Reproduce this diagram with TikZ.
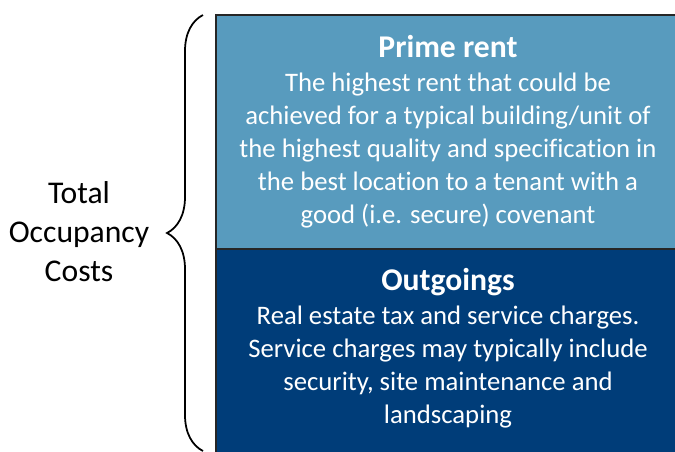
\documentclass[tikz,border=0pt]{standalone}
\usepackage{fontspec}
\setmainfont{Carlito}[Ligatures=NoCommon]
\usepackage{xcolor}
\usetikzlibrary{decorations.pathreplacing}
\definecolor{primeblue}{HTML}{589BBE}
\definecolor{outnavy}{HTML}{003D79}
\tikzset{
  boxhead/.style={text=white,inner sep=0pt,anchor=base,font=\bfseries\fontsize{18}{21}\selectfont},
  boxtext/.style={text=white,inner sep=0pt,anchor=north,align=center,font=\fontsize{15.2}{18.8}\selectfont}
}

\begin{document}
\begin{tikzpicture}
\useasboundingbox (0,0) rectangle (13.5,9.02);
\clip (0,0) rectangle (13.5,9.02);
\draw[fill=primeblue,draw=black!85,line width=0.8pt] (4.32,4.04) rectangle (13.8,8.72);
\draw[fill=outnavy,draw=black!85,line width=0.8pt] (4.32,-0.3) rectangle (13.8,4.04);
% upper box
\node[boxhead] (primehead) at (8.96,7.88) {Prime rent};
\node[boxtext] (primetext) at (8.96,7.57) {The highest rent that could be\\achieved for a typical building/unit of\\the highest quality and specification in\\the best location to a tenant with a\\good (i.e. secure) covenant};
% lower box
\node[boxhead] (outhead) at (8.96,3.22) {Outgoings};
\node[boxtext] (outtext) at (8.96,2.91) {Real estate tax and service charges.\\Service charges may typically include\\security, site maintenance and\\landscaping};
% brace and label
\node[align=center,inner sep=0pt,anchor=north,font=\fontsize{18}{22.2}\selectfont] (total) at (1.58,5.40) {Total\\Occupancy\\Costs};
\coordinate (bracebot) at (4.06,0);
\coordinate (bracetop) at (4.06,8.72);
\draw[decorate,decoration={brace,amplitude=0.72cm},line width=1pt] (bracebot) -- (bracetop);
\end{tikzpicture}
\end{document}
